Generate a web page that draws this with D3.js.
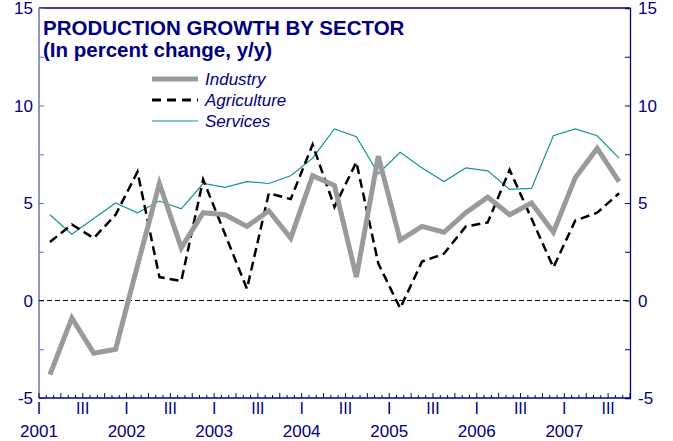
<!DOCTYPE html>
<html>
<head>
<meta charset="utf-8">
<script src="https://cdn.jsdelivr.net/npm/d3@7"></script>
<style>
  body { margin: 0; background: #fff; }
  text { font-family: "Liberation Sans", Arial, sans-serif; }
</style>
</head>
<body>
<svg></svg>
<script>
var width = 673,
    height = 441;

// quarterly data, 2001 Q1 .. 2007 Q3
var quarters = ["2001Q1","2001Q2","2001Q3","2001Q4","2002Q1","2002Q2","2002Q3","2002Q4",
  "2003Q1","2003Q2","2003Q3","2003Q4","2004Q1","2004Q2","2004Q3","2004Q4",
  "2005Q1","2005Q2","2005Q3","2005Q4","2006Q1","2006Q2","2006Q3","2006Q4",
  "2007Q1","2007Q2","2007Q3"];
var industry = [-3.8,-0.9,-2.7,-2.5,1.8,6.0,2.7,4.5,4.4,3.8,4.6,3.2,6.4,5.9,1.2,7.4,3.1,3.8,3.5,4.5,5.3,4.4,5.0,3.5,6.3,7.8,6.1];
var agriculture = [3.0,3.9,3.2,4.4,6.6,1.2,1.0,6.2,3.4,0.6,5.5,5.2,8.0,4.8,7.1,1.9,-0.4,2.0,2.4,3.8,4.0,6.7,4.2,1.7,4.1,4.5,5.5];
var services = [4.4,3.4,4.2,5.0,4.5,5.1,4.7,6.0,5.8,6.1,6.0,6.4,7.3,8.8,8.4,6.5,7.6,6.8,6.1,6.8,6.65,5.7,5.75,8.45,8.8,8.45,7.3];
var years = ["2001","2002","2003","2004","2005","2006","2007"];
var yTicks = [-5, 0, 5, 10, 15];

var navy = "#00007f";

// plot box (don't call these top/left: window.top is read-only)
var pL = 39, pR = 630, pT = 8, pB = 398;

var svg = d3.select("svg")
    .attr("width", width)
    .attr("height", height);

var x = d3.scaleLinear().domain([0, quarters.length]).range([pL, pR]);
var y = d3.scaleLinear().domain([-5, 15]).range([pB, pT]);

// frame
svg.append("line").attr("x1", pL).attr("x2", pR).attr("y1", pT).attr("y2", pT)
  .attr("stroke", navy).attr("stroke-width", 1.3);
svg.append("line").attr("x1", pL).attr("x2", pL).attr("y1", pT).attr("y2", pB)
  .attr("stroke", "#7070b8").attr("stroke-width", 1.5);

// y axes, ticks inside
var yAll = d3.range(-5, 15.01, 2.5);
var yl = svg.append("g").attr("transform", "translate(" + pL + ",0)")
  .call(d3.axisRight(y).tickValues(yAll).tickSize(5).tickFormat(""));
var yr = svg.append("g").attr("transform", "translate(" + pR + ",0)")
  .call(d3.axisLeft(y).tickValues(yAll).tickSize(5).tickFormat(""));
yl.select(".domain").remove();
yl.selectAll("line").attr("stroke", "#7070b8");
yr.select(".domain").attr("stroke", navy).attr("stroke-width", 1.3);
yr.selectAll("line").attr("stroke", navy);

svg.selectAll(".ylabL").data(yTicks).enter().append("text")
  .attr("x", pL - 6).attr("y", function(d) { return y(d) + 6; })
  .attr("text-anchor", "end").attr("font-size", 17).attr("fill", navy)
  .text(function(d) { return d; });
svg.selectAll(".ylabR").data(yTicks).enter().append("text")
  .attr("x", pR + 8).attr("y", function(d) { return y(d) + 6; })
  .attr("font-size", 17).attr("fill", navy)
  .text(function(d) { return d; });

// x axis: monthly ticks, taller at quarters
var months = d3.range(0, quarters.length * 3 + 1);
var xa = svg.append("g").attr("transform", "translate(0," + pB + ")");
xa.append("line").attr("x1", pL).attr("x2", pR).attr("stroke", navy).attr("stroke-width", 1.3);
xa.selectAll(".mt").data(months).enter().append("line")
  .attr("x1", function(d) { return x(d / 3); })
  .attr("x2", function(d) { return x(d / 3); })
  .attr("y1", 0)
  .attr("y2", function(d) { return d % 3 == 0 ? -5 : -3; })
  .attr("stroke", navy);

var qLabels = quarters.map(function(q, i) { return {i: i, q: +q.slice(5)}; })
  .filter(function(d) { return d.q == 1 || d.q == 3; });
svg.selectAll(".qlab").data(qLabels).enter().append("text")
  .attr("x", function(d) { return x(d.i); })
  .attr("y", 414)
  .attr("text-anchor", "middle").attr("font-size", 16).attr("fill", navy)
  .text(function(d) { return d.q == 1 ? "I" : "III"; });
svg.selectAll(".ylab").data(years).enter().append("text")
  .attr("x", function(d, i) { return x(i * 4); })
  .attr("y", 437)
  .attr("text-anchor", "middle").attr("font-size", 17).attr("fill", navy)
  .text(function(d) { return d; });

// zero line
svg.append("line").attr("x1", pL).attr("x2", pR).attr("y1", y(0)).attr("y2", y(0))
  .attr("stroke", "#000").attr("stroke-width", 1).attr("stroke-dasharray", "5,3");

// series
var line = d3.line()
  .x(function(d, i) { return x(i + 0.5); })
  .y(function(d) { return y(d); });

svg.append("path").datum(services).attr("d", line)
  .attr("fill", "none").attr("stroke", "#149494").attr("stroke-width", 1.2);
svg.append("path").datum(agriculture).attr("d", line)
  .attr("fill", "none").attr("stroke", "#000").attr("stroke-width", 2.5)
  .attr("stroke-dasharray", "9,5");
svg.append("path").datum(industry).attr("d", line)
  .attr("fill", "none").attr("stroke", "#9a9a9a").attr("stroke-width", 5)
  .attr("stroke-linejoin", "miter");

// title
svg.append("text").attr("x", 43).attr("y", 35)
  .attr("font-size", 20.5).attr("font-weight", "bold").attr("fill", navy)
  .text("PRODUCTION GROWTH BY SECTOR");
svg.append("text").attr("x", 43).attr("y", 57)
  .attr("font-size", 20.5).attr("font-weight", "bold").attr("fill", navy)
  .text("(In percent change, y/y)");

// legend
var legend = [
  {name: "Industry", color: "#9a9a9a", w: 5, dash: null},
  {name: "Agriculture", color: "#000", w: 3, dash: "9,6"},
  {name: "Services", color: "#149494", w: 1.2, dash: null}
];
var lg = svg.selectAll(".lg").data(legend).enter().append("g")
  .attr("transform", function(d, i) { return "translate(152," + (79 + i * 21) + ")"; });
lg.append("line").attr("x1", 0).attr("x2", 46)
  .attr("stroke", function(d) { return d.color; })
  .attr("stroke-width", function(d) { return d.w; })
  .attr("stroke-dasharray", function(d) { return d.dash; });
lg.append("text").attr("x", 53).attr("y", 6)
  .attr("font-size", 17).attr("font-style", "italic").attr("fill", navy)
  .text(function(d) { return d.name; });
</script>
</body>
</html>
